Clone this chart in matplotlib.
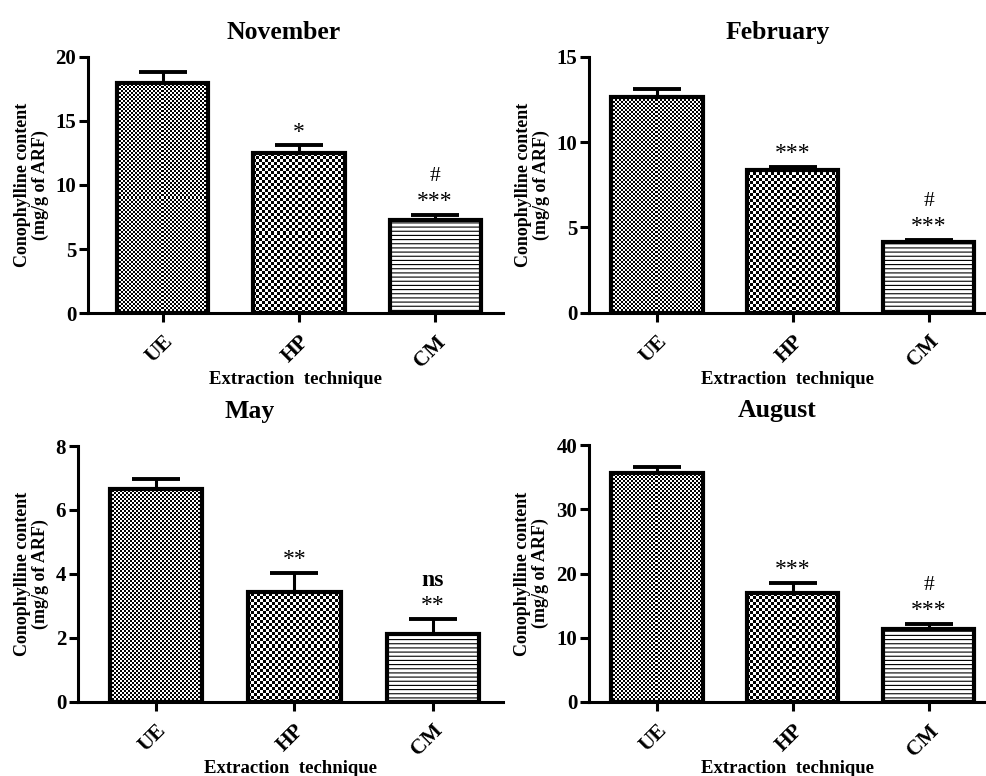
import numpy as np
import matplotlib
matplotlib.use('Agg')
import matplotlib.pyplot as plt

plt.rcParams['font.family'] = ['Liberation Serif', 'DejaVu Serif']
plt.rcParams['hatch.linewidth'] = 0.8

techniques = ['UE', 'HP', 'CM']
months = ['November', 'February', 'May', 'August']

nov_mean = [18.0, 12.5, 7.3]
nov_sem = [0.8, 0.6, 0.35]
feb_mean = [12.65, 8.36, 4.12]
feb_sem = [0.45, 0.2, 0.14]
may_mean = [6.65, 3.42, 2.13]
may_sem = [0.33, 0.62, 0.47]
aug_mean = [35.6, 17.0, 11.3]
aug_sem = [1.0, 1.6, 0.9]

nov_ticks = [0, 5, 10, 15, 20]
feb_ticks = [0, 5, 10, 15]
may_ticks = [0, 2, 4, 6, 8]
aug_ticks = [0, 10, 20, 30, 40]

# significance marks: vs UE (first line) and vs HP (second line)
nov_sig = ['', '*', '***']
nov_sig2 = ['', '', '#']
feb_sig = ['', '***', '***']
feb_sig2 = ['', '', '#']
may_sig = ['', '**', '**']
may_sig2 = ['', '', 'ns']
aug_sig = ['', '***', '***']
aug_sig2 = ['', '', '#']

panels = [
    (nov_mean, nov_sem, nov_ticks, nov_sig, nov_sig2),
    (feb_mean, feb_sem, feb_ticks, feb_sig, feb_sig2),
    (may_mean, may_sem, may_ticks, may_sig, may_sig2),
    (aug_mean, aug_sem, aug_ticks, aug_sig, aug_sig2),
]

# axes placement (figure fraction), x limits, title x / pad
rects = [
    [0.0893, 0.5966, 0.421, 0.330],
    [0.5974, 0.5970, 0.4026, 0.330],
    [0.0791, 0.0957, 0.431, 0.3295],
    [0.5974, 0.0954, 0.4026, 0.331],
]
xlims = [(-0.55, 2.5), (-0.5, 2.42), (-0.563, 2.505), (-0.5, 2.42)]
title_x = [0.47, 0.475, 0.405, 0.473]
title_pad = [13, 13, 20, 20]

fill_cells = [2, 3, None]   # checker cell size in px, None -> horizontal lines

fig = plt.figure(figsize=(9.86, 7.76), dpi=100)


def fill_checker(ax, bar, cell):
    x0, y0 = bar.get_x(), bar.get_y()
    w, h = bar.get_width(), bar.get_height()
    (px0, py0), (px1, py1) = ax.transData.transform([(x0, y0), (x0 + w, y0 + h)])
    nx = max(int(round(px1 - px0)), 1)
    ny = max(int(round(py1 - py0)), 1)
    img = (np.add.outer(np.arange(ny) // cell, np.arange(nx) // cell) % 2).astype(float)
    im = ax.imshow(img, cmap='gray', vmin=0, vmax=1, extent=(x0, x0 + w, y0, y0 + h),
                   interpolation='nearest', aspect='auto', origin='lower', zorder=1.5)
    im.set_clip_path(bar)


for i, (mean, sem, ticks, sig, sig2) in enumerate(panels):
    ax = fig.add_axes(rects[i])
    x = np.arange(len(techniques))
    ax.set_xlim(*xlims[i])
    ax.set_ylim(ticks[0], ticks[-1])

    bars = ax.bar(x, mean, width=0.67, facecolor='none', edgecolor='black',
                  linewidth=3, zorder=2)
    for bar, cell in zip(bars, fill_cells):
        if cell is None:
            bar.set_hatch('----')
        else:
            fill_checker(ax, bar, cell)

    ax.errorbar(x, mean, yerr=[np.zeros(len(sem)), sem], fmt='none', ecolor='black',
                elinewidth=2.2, capsize=17, capthick=2.8, zorder=3)

    for xi, m, s, t1, t2 in zip(x, mean, sem, sig, sig2):
        if t1:
            ax.annotate(t1, (xi, m + s), xytext=(0, 9.5), textcoords='offset points',
                        ha='center', va='center', fontsize=17)
        if t2:
            ax.annotate(t2, (xi, m + s), xytext=(0, 27.5), textcoords='offset points',
                        ha='center', va='center', fontsize=17 if t2 == 'ns' else 15.5,
                        fontweight='bold' if t2 == 'ns' else 'normal')

    ax.set_xlim(*xlims[i])
    ax.set_ylim(ticks[0], ticks[-1])
    ax.set_yticks(ticks)
    ax.set_xticks(x)
    ax.set_xticklabels(techniques, rotation=45, ha='right', rotation_mode='anchor',
                       fontsize=15.5, fontweight='bold')
    for lab in ax.get_yticklabels():
        lab.set_fontsize(15)
        lab.set_fontweight('bold')
    ax.tick_params(axis='both', direction='out', length=6.5, width=2.2, pad=2)
    ax.tick_params(axis='x', pad=7)

    for side in ['top', 'right']:
        ax.spines[side].set_visible(False)
    for side in ['left', 'bottom']:
        ax.spines[side].set_linewidth(2.2)

    ax.set_title(months[i], x=title_x[i], pad=title_pad[i], fontsize=18.5, fontweight='bold')
    ax.set_ylabel('Conophylline content\n(mg/g of ARF)', fontsize=13, fontweight='bold',
                  labelpad=5, linespacing=1.05)
    ax.set_xlabel('Extraction  technique', fontsize=13.5, fontweight='bold', labelpad=0)

fig.savefig('out.png', dpi=100)
